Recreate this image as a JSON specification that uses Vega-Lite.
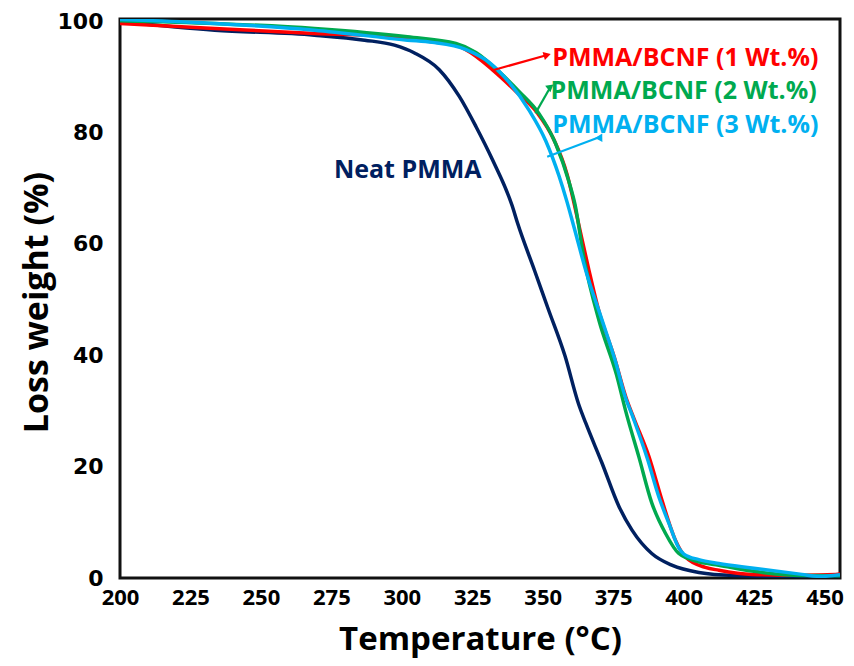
{
  "$schema": "https://vega.github.io/schema/vega-lite/v6.json",
  "width": 720,
  "height": 559,
  "autosize": {"type": "none"},
  "padding": {"left": 120, "top": 19, "right": 14, "bottom": 88},
  "background": "white",
  "config": {
    "view": {"stroke": "#111111", "strokeWidth": 3},
    "axis": {"domain": false, "ticks": false, "grid": false, "labelColor": "#000000", "titleColor": "#000000"}
  },
  "datasets": {
    "curves": [
      {"series": "Neat PMMA", "T": 200, "w": 99.9},
      {"series": "Neat PMMA", "T": 233.6, "w": 98.4},
      {"series": "Neat PMMA", "T": 269, "w": 97.5},
      {"series": "Neat PMMA", "T": 286.8, "w": 96.6},
      {"series": "Neat PMMA", "T": 297.4, "w": 95.7},
      {"series": "Neat PMMA", "T": 304.5, "w": 94.3},
      {"series": "Neat PMMA", "T": 313.3, "w": 91.3},
      {"series": "Neat PMMA", "T": 320.4, "w": 86.5},
      {"series": "Neat PMMA", "T": 326.3, "w": 81.1},
      {"series": "Neat PMMA", "T": 332.1, "w": 75.2},
      {"series": "Neat PMMA", "T": 339.2, "w": 66.8},
      {"series": "Neat PMMA", "T": 341.1, "w": 63.7},
      {"series": "Neat PMMA", "T": 347.2, "w": 55.1},
      {"series": "Neat PMMA", "T": 351.9, "w": 48.4},
      {"series": "Neat PMMA", "T": 357.9, "w": 39.9},
      {"series": "Neat PMMA", "T": 362.7, "w": 31.3},
      {"series": "Neat PMMA", "T": 365.3, "w": 27.8},
      {"series": "Neat PMMA", "T": 371, "w": 20.7},
      {"series": "Neat PMMA", "T": 377.1, "w": 12.8},
      {"series": "Neat PMMA", "T": 381.7, "w": 8.6},
      {"series": "Neat PMMA", "T": 388.7, "w": 4.4},
      {"series": "Neat PMMA", "T": 395.8, "w": 2.3},
      {"series": "Neat PMMA", "T": 405.4, "w": 1.0},
      {"series": "Neat PMMA", "T": 418, "w": 0.45},
      {"series": "Neat PMMA", "T": 435, "w": 0.3},
      {"series": "Neat PMMA", "T": 455.5, "w": 0.3},

      {"series": "1 Wt.%", "T": 200, "w": 99.6},
      {"series": "1 Wt.%", "T": 233.6, "w": 98.7},
      {"series": "1 Wt.%", "T": 269, "w": 97.8},
      {"series": "1 Wt.%", "T": 299.2, "w": 97.2},
      {"series": "1 Wt.%", "T": 310.8, "w": 96.3},
      {"series": "1 Wt.%", "T": 319.2, "w": 95.7},
      {"series": "1 Wt.%", "T": 326.3, "w": 93.7},
      {"series": "1 Wt.%", "T": 332.1, "w": 91.3},
      {"series": "1 Wt.%", "T": 340.5, "w": 87.4},
      {"series": "1 Wt.%", "T": 348.0, "w": 83.6},
      {"series": "1 Wt.%", "T": 353.9, "w": 78.8},
      {"series": "1 Wt.%", "T": 358.7, "w": 72.4},
      {"series": "1 Wt.%", "T": 361.0, "w": 67.6},
      {"series": "1 Wt.%", "T": 362.7, "w": 63.7},
      {"series": "1 Wt.%", "T": 366.4, "w": 55.3},
      {"series": "1 Wt.%", "T": 369.9, "w": 48.0},
      {"series": "1 Wt.%", "T": 375.5, "w": 39.5},
      {"series": "1 Wt.%", "T": 379.5, "w": 32.5},
      {"series": "1 Wt.%", "T": 382.5, "w": 28.5},
      {"series": "1 Wt.%", "T": 387.7, "w": 21.8},
      {"series": "1 Wt.%", "T": 392.3, "w": 14.0},
      {"series": "1 Wt.%", "T": 397.1, "w": 6.8},
      {"series": "1 Wt.%", "T": 400.6, "w": 3.8},
      {"series": "1 Wt.%", "T": 407.7, "w": 1.9},
      {"series": "1 Wt.%", "T": 412.5, "w": 1.4},
      {"series": "1 Wt.%", "T": 424.2, "w": 0.65},
      {"series": "1 Wt.%", "T": 442, "w": 0.5},
      {"series": "1 Wt.%", "T": 454, "w": 0.65},
      {"series": "1 Wt.%", "T": 455.5, "w": 0.7},

      {"series": "2 Wt.%", "T": 200, "w": 100.1},
      {"series": "2 Wt.%", "T": 233.6, "w": 99.6},
      {"series": "2 Wt.%", "T": 269, "w": 98.7},
      {"series": "2 Wt.%", "T": 302, "w": 97.2},
      {"series": "2 Wt.%", "T": 319.2, "w": 96.0},
      {"series": "2 Wt.%", "T": 326.3, "w": 94.4},
      {"series": "2 Wt.%", "T": 334.6, "w": 90.9},
      {"series": "2 Wt.%", "T": 341.6, "w": 87.4},
      {"series": "2 Wt.%", "T": 348.7, "w": 83.4},
      {"series": "2 Wt.%", "T": 354.6, "w": 78.0},
      {"series": "2 Wt.%", "T": 359.3, "w": 71.2},
      {"series": "2 Wt.%", "T": 361.5, "w": 67.0},
      {"series": "2 Wt.%", "T": 364.6, "w": 57.5},
      {"series": "2 Wt.%", "T": 370, "w": 46.2},
      {"series": "2 Wt.%", "T": 376.2, "w": 36.5},
      {"series": "2 Wt.%", "T": 379.6, "w": 29.7},
      {"series": "2 Wt.%", "T": 384.1, "w": 21.8},
      {"series": "2 Wt.%", "T": 388.7, "w": 13.5},
      {"series": "2 Wt.%", "T": 393.6, "w": 8.0},
      {"series": "2 Wt.%", "T": 398.3, "w": 4.4},
      {"series": "2 Wt.%", "T": 405.4, "w": 2.9},
      {"series": "2 Wt.%", "T": 412.5, "w": 2.3},
      {"series": "2 Wt.%", "T": 424.2, "w": 1.25},
      {"series": "2 Wt.%", "T": 442, "w": 0.45},
      {"series": "2 Wt.%", "T": 455.5, "w": 0.4},

      {"series": "3 Wt.%", "T": 200, "w": 100.3},
      {"series": "3 Wt.%", "T": 233.6, "w": 99.6},
      {"series": "3 Wt.%", "T": 269, "w": 98.4},
      {"series": "3 Wt.%", "T": 302, "w": 96.6},
      {"series": "3 Wt.%", "T": 310.8, "w": 96.2},
      {"series": "3 Wt.%", "T": 322.8, "w": 94.9},
      {"series": "3 Wt.%", "T": 331, "w": 92.6},
      {"series": "3 Wt.%", "T": 338.1, "w": 89.0},
      {"series": "3 Wt.%", "T": 345.2, "w": 84.0},
      {"series": "3 Wt.%", "T": 351.1, "w": 78.5},
      {"series": "3 Wt.%", "T": 355.8, "w": 72.2},
      {"series": "3 Wt.%", "T": 358.6, "w": 67.6},
      {"series": "3 Wt.%", "T": 360.9, "w": 63.4},
      {"series": "3 Wt.%", "T": 365.7, "w": 54.5},
      {"series": "3 Wt.%", "T": 371, "w": 46.4},
      {"series": "3 Wt.%", "T": 376, "w": 38.6},
      {"series": "3 Wt.%", "T": 379, "w": 33.0},
      {"series": "3 Wt.%", "T": 382.3, "w": 28.5},
      {"series": "3 Wt.%", "T": 387.1, "w": 21.5},
      {"series": "3 Wt.%", "T": 391.2, "w": 14.6},
      {"series": "3 Wt.%", "T": 394.8, "w": 9.8},
      {"series": "3 Wt.%", "T": 398.3, "w": 5.4},
      {"series": "3 Wt.%", "T": 400.1, "w": 4.3},
      {"series": "3 Wt.%", "T": 405.4, "w": 3.3},
      {"series": "3 Wt.%", "T": 412.5, "w": 2.6},
      {"series": "3 Wt.%", "T": 424.2, "w": 1.8},
      {"series": "3 Wt.%", "T": 442, "w": 0.65},
      {"series": "3 Wt.%", "T": 448, "w": 0.3},
      {"series": "3 Wt.%", "T": 455.5, "w": 0.6}
    ],
    "labels": [
      {"series": "Neat PMMA", "label": "Neat PMMA", "T": 275.9, "w": 71.8},
      {"series": "1 Wt.%", "label": "PMMA/BCNF (1 Wt.%)", "T": 353.4, "w": 92.0},
      {"series": "2 Wt.%", "label": "PMMA/BCNF (2 Wt.%)", "T": 352.8, "w": 86.0},
      {"series": "3 Wt.%", "label": "PMMA/BCNF (3 Wt.%)", "T": 353.4, "w": 80.0}
    ],
    "arrows": [
      {"series": "1 Wt.%", "T1": 332.6, "w1": 91.24, "T2": 351.6, "w2": 93.93},
      {"series": "2 Wt.%", "T1": 347.4, "w1": 83.45, "T2": 352.8, "w2": 88.23},
      {"series": "3 Wt.%", "T1": 351.6, "w1": 75.66, "T2": 370.5, "w2": 79.25}
    ]
  },
  "layer": [
    {
      "data": {"name": "curves"},
      "mark": {"type": "line", "interpolate": "monotone", "strokeWidth": 3.5, "clip": true},
      "encoding": {
        "x": {
          "field": "T", "type": "quantitative",
          "scale": {"domain": [200, 455.5], "nice": false, "zero": false},
          "axis": {
            "values": [200, 225, 250, 275, 300, 325, 350, 375, 400, 425, 450],
            "labelFlush": false, "labelOverlap": false,
            "labelFont": "Open Sans", "labelFontWeight": "bold", "labelFontSize": 22, "labelPadding": 9,
            "title": "Temperature (°C)", "titleFont": "Open Sans", "titleFontWeight": "bold", "titleFontSize": 33,
            "titleX": 360, "titleY": 61, "titleBaseline": "middle", "titleAlign": "center"
          }
        },
        "y": {
          "field": "w", "type": "quantitative",
          "scale": {"domain": [0, 100.4], "nice": false},
          "axis": {
            "values": [0, 20, 40, 60, 80, 100],
            "labelFlush": false, "labelOverlap": false,
            "labelFont": "DejaVu Sans", "labelFontWeight": "bold", "labelFontSize": 22, "labelPadding": 17,
            "title": "Loss weight (%)", "titleFont": "Open Sans", "titleFontWeight": "bold", "titleFontSize": 34,
            "titleX": -83, "titleY": 283, "titleAngle": -90, "titleBaseline": "middle", "titleAlign": "center"
          }
        },
        "color": {
          "field": "series", "type": "nominal",
          "scale": {"domain": ["Neat PMMA", "1 Wt.%", "2 Wt.%", "3 Wt.%"], "range": ["#002060", "#FF0000", "#00A94F", "#00B0F0"]},
          "legend": null
        },
        "order": {"field": "T", "type": "quantitative"}
      }
    },
    {
      "data": {"name": "arrows"},
      "mark": {"type": "rule", "strokeWidth": 2.2},
      "encoding": {
        "x": {"field": "T1", "type": "quantitative"},
        "y": {"field": "w1", "type": "quantitative"},
        "x2": {"field": "T2"},
        "y2": {"field": "w2"},
        "color": {"field": "series", "type": "nominal", "legend": null}
      }
    },
    {
      "data": {"name": "arrows"},
      "mark": {"type": "point", "shape": "triangle-up", "filled": true, "size": 70, "opacity": 1},
      "encoding": {
        "x": {"field": "T2", "type": "quantitative"},
        "y": {"field": "w2", "type": "quantitative"},
        "angle": {"field": "series", "type": "nominal", "scale": {"domain": ["1 Wt.%", "2 Wt.%", "3 Wt.%"], "range": [74, 29, 69]}, "legend": null},
        "color": {"field": "series", "type": "nominal", "legend": null}
      }
    },
    {
      "data": {"name": "labels"},
      "mark": {"type": "text", "font": "Open Sans", "fontWeight": "bold", "fontSize": 25, "align": "left", "baseline": "alphabetic"},
      "encoding": {
        "x": {"field": "T", "type": "quantitative"},
        "y": {"field": "w", "type": "quantitative"},
        "text": {"field": "label"},
        "color": {"field": "series", "type": "nominal", "legend": null}
      }
    }
  ]
}
